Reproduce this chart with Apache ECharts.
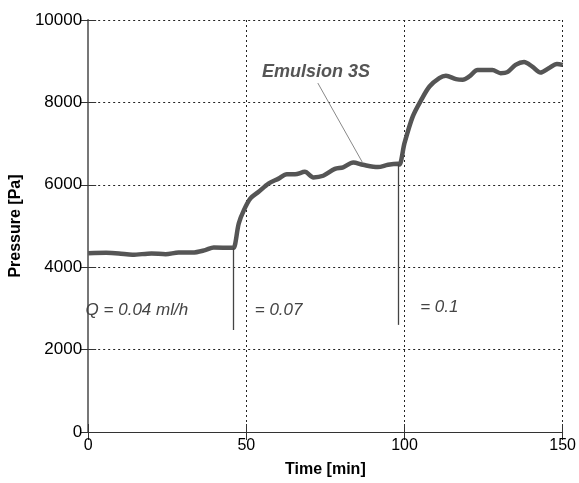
<!DOCTYPE html>
<html><head><meta charset="utf-8">
<script src="https://cdn.jsdelivr.net/npm/echarts@6/dist/echarts.min.js"></script>
<style>html,body{margin:0;padding:0;background:#fff}#c{width:579px;height:483px}</style>
</head><body><div id="c"></div>
<script>
const time = [0,5.7,9.7,14,20,24.5,28.6,33,37,39.7,45.6,46,47.6,49.2,51.3,53.9,57,60.2,62.8,65.4,68.5,71.2,74.3,78,80.6,83.8,86.9,91.6,94.8,97.9,98.4,100,102.6,105.3,107.9,111,113.1,116.3,118.4,120.5,123.1,127.8,130.4,132.5,135.1,137.8,140.4,143,145.6,148.2,150];
const pressure = [4340,4350,4335,4300,4335,4315,4355,4355,4415,4480,4470,4470,5060,5380,5670,5830,6030,6150,6255,6255,6315,6180,6220,6385,6425,6540,6485,6430,6485,6510,6490,7010,7655,8060,8385,8590,8645,8565,8550,8630,8785,8785,8710,8735,8910,8980,8870,8725,8830,8935,8910];
const xTicks = [0,50,100,150];
const yTicks = [0,2000,4000,6000,8000,10000];
// flow-rate change markers: [time, bottom pressure, top pressure]
const markers = [[45.9,2475,4470],[98,2600,6500]];
const leader = [[72.6,8470],[86.8,6530]];
const notes = [
  {text:'Q = 0.04 ml/h', t:15.4, p:2960, bold:false},
  {text:'= 0.07', t:60.2, p:2960, bold:false},
  {text:'= 0.1', t:111, p:3030, bold:false},
  {text:'Emulsion 3S', t:72, p:8740, bold:true}
];

const chart = echarts.init(document.getElementById('c'));
const font = 'Liberation Sans, Arial, sans-serif';
const grid = {left:87, top:20, width:477, height:412};
const dotted = {show:true, lineStyle:{color:'#222', width:1, type:[2,3]}};
chart.setOption({
  animation:false,
  grid: grid,
  xAxis: [{
    type:'value', min:0, max:150, interval:50,
    name:'Time [min]', nameLocation:'middle', nameGap:30,
    nameTextStyle:{fontFamily:font, fontWeight:'bold', fontSize:16, color:'#000'},
    axisLine:{lineStyle:{color:'#333', width:1}},
    axisTick:{inside:true, length:8, lineStyle:{color:'#333'}},
    axisLabel:{fontFamily:font, fontSize:16, color:'#000', margin:6, formatter: v => xTicks.includes(v) ? String(v) : ''},
    splitLine:dotted
  },{
    type:'value', min:0, max:150, interval:50, position:'top',
    axisLine:{lineStyle:{color:'#333', width:1}},
    axisTick:{inside:true, length:8, lineStyle:{color:'#333'}},
    axisLabel:{show:false}, splitLine:{show:false}
  }],
  yAxis: [{
    type:'value', min:0, max:10000, interval:2000,
    name:'Pressure [Pa]', nameLocation:'middle', nameGap:61,
    nameTextStyle:{fontFamily:font, fontWeight:'bold', fontSize:16, color:'#000'},
    axisLine:{lineStyle:{color:'#333', width:1}},
    axisTick:{inside:true, length:8, lineStyle:{color:'#333'}},
    axisLabel:{fontFamily:font, fontSize:17, color:'#000', margin:6, formatter: v => yTicks.includes(v) ? String(v) : ''},
    splitLine:dotted
  },{
    type:'value', min:0, max:10000, interval:2000, position:'right',
    axisLine:{lineStyle:{color:'#777', width:2}},
    axisTick:{inside:true, length:8, lineStyle:{color:'#333'}},
    axisLabel:{show:false}, splitLine:{show:false}
  }],
  series: [
    {
      type:'line', data: time.map((t,i)=>[t,pressure[i]]),
      smooth:0.3, symbol:'none',
      lineStyle:{color:'#555', width:4.5},
      z:3
    },
    {
      type:'line', data:[], symbol:'none', silent:true,
      markLine:{
        symbol:'none', silent:true, label:{show:false},
        data: markers.map(m=>[{coord:[m[0],m[1]], lineStyle:{color:'#444', width:1.3, type:'solid'}},{coord:[m[0],m[2]]}])
          .concat([[{coord:leader[0], lineStyle:{color:'#888', width:1, type:'solid'}},{coord:leader[1]}]])
      }
    },
    {
      type:'scatter', symbolSize:0, silent:true,
      data: notes.map(n=>({value:[n.t,n.p], label:{
        show:true, position:'inside', formatter:n.text,
        fontFamily:font, fontStyle:'italic', fontWeight:n.bold?'bold':'normal',
        fontSize: n.bold ? 18 : 17, color: n.bold ? '#555' : '#444', opacity:1
      }})),
      z:5
    }
  ]
});
</script>
</body></html>
